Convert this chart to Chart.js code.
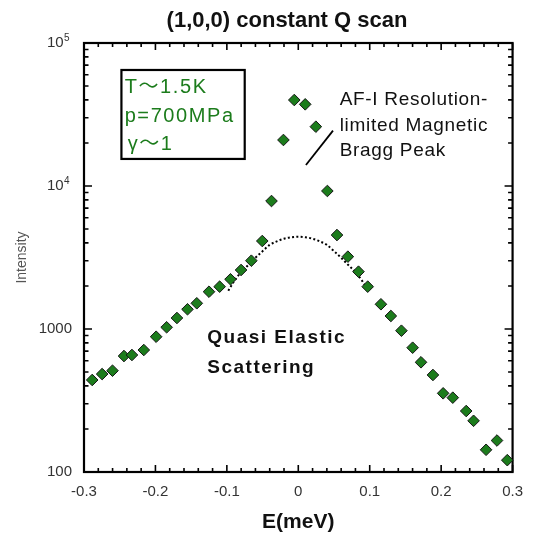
<!DOCTYPE html>
<html>
<head>
<meta charset="utf-8">
<script src="https://cdn.jsdelivr.net/npm/chart.js@4.4.1/dist/chart.umd.min.js"></script>
<style>
html,body{margin:0;padding:0;background:#fff;}
#c{display:block;}
</style>
</head>
<body>
<canvas id="c" width="534" height="536"></canvas>
<script>
// ---- data ----
const energy = [-0.2885,-0.2746,-0.2601,-0.2440,-0.2329,-0.2163,-0.1990,-0.1843,-0.1699,-0.1551,
  -0.1421,-0.1250,-0.1101,-0.0949,-0.0801,-0.0657,-0.0504,-0.0375,-0.0208,-0.0056,
  0.0097,0.0246,0.0407,0.0542,0.0694,0.0843,0.0972,0.1157,0.1296,0.1444,
  0.1601,0.1718,0.1885,0.2028,0.2163,0.2351,0.2454,0.2629,0.2782,0.2926];
const intensity = [440,484,511,647,658,713,883,1028,1194,1374,
  1513,1823,1977,2227,2586,3004,4124,7852,20980,39930,
  37250,25990,9230,4540,3205,2517,1977,1489,1233,973,
  740,585,477,355,331,267,228,143,166,121];
const fitEnergy = [-0.098,-0.09,-0.08,-0.07,-0.06,-0.05,-0.04,-0.03,-0.02,-0.01,0,
  0.01,0.02,0.03,0.04,0.05,0.06,0.07,0.08,0.09,0.098];
const fitIntensity = [1850,2150,2500,2800,3150,3500,3880,4100,4280,4380,4420,
  4380,4280,4100,3880,3500,3150,2800,2500,2150,1850];
const xTickValues = [-0.3,-0.2,-0.1,0,0.1,0.2,0.3];
const xTickLabels = ['-0.3','-0.2','-0.1','0','0.1','0.2','0.3'];
const yTickValues = [100,1000,10000,100000];
const yTickBases = ['100','1000','10','10'];
const yTickExponents = ['','','4','5'];
const titleText = '(1,0,0) constant Q scan';
const xTitle = 'E(meV)';
const yTitle = 'Intensity';
const conditionLines = ['T\u301C1.5K','p=700MPa','\u03B3\u301C1'];
const braggLines = ['AF-I Resolution-','limited Magnetic','Bragg Peak'];
const quasiLines = ['Quasi Elastic','Scattering'];

const GREEN = '#1c7c1c';
const FONT = "'Liberation Sans', Arial, 'Noto Sans CJK JP', sans-serif";

// annotation anchors in data coordinates (E, intensity)
const notes = {
  box: {e0:-0.2476, e1:-0.075, i0:64760, i1:15460},
  boxText: {e:-0.2431, i:44480, step:28.3},
  braggText: {e:0.0579, i:36840, step:25.5},
  braggLine: {e0:0.0107, i0:14030, e1:0.0486, i1:24370},
  quasiText: {e:-0.1274, i:794, step:30}
};

const frameTicks = {
  id:'frameTicks',
  afterLayout(chart){
    if (chart.titleBlock) chart.titleBlock.left = 58;
  },
  beforeDatasetsDraw(chart){
    const {ctx, chartArea:{left,right,top,bottom}, scales:{x,y}} = chart;
    ctx.save();
    ctx.strokeStyle = '#000';
    ctx.lineWidth = 1.6;
    ctx.beginPath();
    for (let i=-15;i<=15;i++){
      const px = x.getPixelForValue(i*0.02);
      const len = (i%5===0) ? 7 : 4;
      ctx.moveTo(px, bottom); ctx.lineTo(px, bottom-len);
      ctx.moveTo(px, top); ctx.lineTo(px, top+len);
    }
    for (let e=2;e<=5;e++){
      for (let m=1;m<=9;m++){
        const v = m*Math.pow(10,e);
        if (v<100 || v>100000) continue;
        const py = y.getPixelForValue(v);
        const len = (m===1) ? 8 : 4.5;
        ctx.moveTo(left, py); ctx.lineTo(left+len, py);
        ctx.moveTo(right, py); ctx.lineTo(right-len, py);
      }
    }
    ctx.stroke();
    ctx.lineWidth = 2.2;
    ctx.strokeRect(left, top, right-left, bottom-top);
    // exponents of the decade tick labels
    ctx.fillStyle = '#333';
    ctx.font = '10px ' + FONT;
    ctx.textAlign = 'left';
    ctx.textBaseline = 'middle';
    yTickValues.forEach((v,i)=>{
      if (!yTickExponents[i]) return;
      ctx.fillText(yTickExponents[i], left - 20, y.getPixelForValue(v) - 5);
    });
    ctx.restore();
  },
  afterDatasetsDraw(chart){
    const {ctx, scales:{x,y}} = chart;
    ctx.save();
    // condition box
    const b = notes.box;
    const bx0 = x.getPixelForValue(b.e0), bx1 = x.getPixelForValue(b.e1);
    const by0 = y.getPixelForValue(b.i0), by1 = y.getPixelForValue(b.i1);
    ctx.fillStyle = '#fff';
    ctx.fillRect(bx0, by0, bx1-bx0, by1-by0);
    ctx.strokeStyle = '#000';
    ctx.lineWidth = 2.2;
    ctx.strokeRect(bx0, by0, bx1-bx0, by1-by0);
    ctx.fillStyle = GREEN;
    ctx.font = '20px ' + FONT;
    ctx.textBaseline = 'alphabetic';
    ctx.textAlign = 'left';
    ctx.letterSpacing = '1.6px';
    const bt = notes.boxText;
    let tx = x.getPixelForValue(bt.e), ty = y.getPixelForValue(bt.i);
    conditionLines.forEach((s,k)=>{ ctx.fillText(s, tx + (k===2?3:0), ty + k*bt.step); });
    // Bragg peak text
    ctx.fillStyle = '#111';
    ctx.font = '19px ' + FONT;
    ctx.letterSpacing = '0.7px';
    const gt = notes.braggText;
    tx = x.getPixelForValue(gt.e); ty = y.getPixelForValue(gt.i);
    braggLines.forEach((s,k)=>{ ctx.fillText(s, tx, ty + k*gt.step); });
    // pointer line
    const gl = notes.braggLine;
    ctx.beginPath();
    ctx.lineWidth = 1.8;
    ctx.strokeStyle = '#000';
    ctx.moveTo(x.getPixelForValue(gl.e0), y.getPixelForValue(gl.i0));
    ctx.lineTo(x.getPixelForValue(gl.e1), y.getPixelForValue(gl.i1));
    ctx.stroke();
    // quasi elastic text
    ctx.font = 'bold 19px ' + FONT;
    ctx.letterSpacing = '1.5px';
    const qt = notes.quasiText;
    tx = x.getPixelForValue(qt.e); ty = y.getPixelForValue(qt.i);
    quasiLines.forEach((s,k)=>{ ctx.fillText(s, tx, ty + k*qt.step); });
    ctx.letterSpacing = '0px';
    ctx.restore();
  }
};

new Chart(document.getElementById('c'), {
  type: 'scatter',
  data: {
    datasets: [
      {
        label: 'data',
        data: energy.map((e,i)=>({x:e, y:intensity[i]})),
        pointStyle: 'rectRot',
        pointRadius: 5.8,
        backgroundColor: GREEN,
        borderColor: '#151515',
        borderWidth: 1,
        clip: false,
        order: 0
      },
      {
        label: 'quasi elastic',
        type: 'line',
        data: fitEnergy.map((e,i)=>({x:e, y:fitIntensity[i]})),
        showLine: true,
        borderColor: '#000',
        borderWidth: 2,
        borderDash: [2, 2.3],
        pointRadius: 0,
        fill: false,
        cubicInterpolationMode: 'monotone',
        order: 1
      }
    ]
  },
  options: {
    responsive: false,
    animation: false,
    devicePixelRatio: 1,
    layout: {padding: {left:0, right:18, top:0, bottom:0}},
    plugins: {
      legend: {display:false},
      tooltip: {enabled:false},
      title: {
        display: true,
        text: titleText,
        color: '#111',
        font: {family: FONT, size: 22, weight: 'bold'},
        padding: {top: 8, bottom: 8.6}
      }
    },
    scales: {
      x: {
        type: 'linear',
        min: -0.3, max: 0.3,
        afterBuildTicks: s => { s.ticks = xTickValues.map(v=>({value:v})); },
        afterFit: s => { s.height = 64; },
        ticks: {
          autoSkip: false, maxRotation: 0, padding: 11,
          color: '#333',
          font: {family: FONT, size: 15},
          callback: (v, i) => xTickLabels[i]
        },
        grid: {display:false, drawTicks:false},
        border: {display:false},
        title: {
          display: true, text: xTitle, color: '#111',
          font: {family: FONT, size: 21, weight: 'bold'},
          padding: {top:0, bottom:1}
        }
      },
      y: {
        type: 'logarithmic',
        min: 100, max: 100000,
        afterBuildTicks: s => { s.ticks = yTickValues.map(v=>({value:v})); },
        afterFit: s => { s.width = 84; },
        ticks: {
          autoSkip: false, padding: 12,
          color: '#333',
          font: {family: FONT, size: 15},
          callback: (v, i) => yTickBases[i] + (yTickExponents[i] ? '  ' : '')
        },
        grid: {display:false, drawTicks:false},
        border: {display:false},
        title: {
          display: true, text: yTitle, color: '#555',
          font: {family: FONT, size: 14},
          padding: {top:14, bottom:0}
        }
      }
    }
  },
  plugins: [frameTicks]
});
</script>
</body>
</html>
